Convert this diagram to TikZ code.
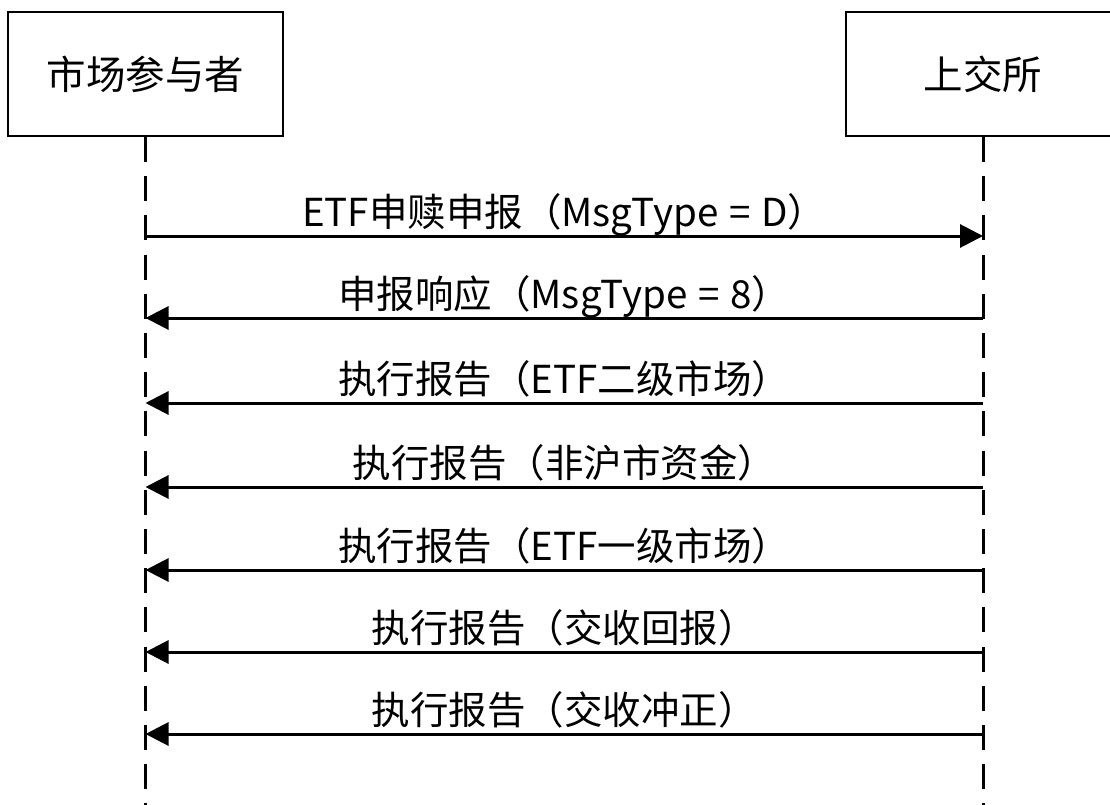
\documentclass[tikz,border=0pt]{standalone}
\usepackage{fontspec}
\setmainfont{Noto Sans CJK SC}
\newfontfamily\cjk{Noto Sans CJK SC}
\usetikzlibrary{arrows.meta}
\newcommand{\eqsp}{\hspace{0.28em}=\hspace{0.28em}}
\tikzset{
  actor/.style={draw=black, line width=2pt, minimum width=275pt, minimum height=124pt, inner sep=0pt,
    font=\cjk\fontsize{39.5}{44}\selectfont},
  lifeline/.style={line width=3pt, dash pattern=on 25pt off 14.2pt},
  msg/.style={line width=3pt, -{Triangle[length=23pt,width=23pt]}},
  lbl/.style={font=\cjk\fontsize{38.5}{42}\selectfont, inner sep=0pt, anchor=base}
}
\begin{document}
\begin{tikzpicture}[x=1pt,y=-1pt]
\useasboundingbox[fill=white] (0,0) rectangle (1110,805);
\node[actor] (mp) at (145.5,74) {市场参与者};
\node[actor] (sse) at (983,74) {上交所};
\coordinate (mpend) at (145.5,805);
\coordinate (sseend) at (983,805);
\draw[lifeline] (mp.south) -- (mpend);
\draw[lifeline] (sse.south) -- (sseend);
\foreach \i/\y in {1/236,2/318,3/403,4/487,5/570,6/652,7/734}{
  \coordinate (l\i) at (145.5,\y);
  \coordinate (r\i) at (983,\y);
}
\draw[msg] (l1) -- (r1) node[lbl, pos=0.5, yshift=10pt] (t1) {ETF申赎申报（MsgType\eqsp D）};
\draw[msg] (r2) -- (l2) node[lbl, pos=0.5, yshift=10pt] (t2) {申报响应（MsgType\eqsp 8）};
\draw[msg] (r3) -- (l3) node[lbl, pos=0.5, yshift=10pt] (t3) {执行报告（ETF二级市场）};
\draw[msg] (r4) -- (l4) node[lbl, pos=0.5, yshift=10pt] (t4) {执行报告（非沪市资金）};
\draw[msg] (r5) -- (l5) node[lbl, pos=0.5, yshift=10pt] (t5) {执行报告（ETF一级市场）};
\draw[msg] (r6) -- (l6) node[lbl, pos=0.5, yshift=10pt] (t6) {执行报告（交收回报）};
\draw[msg] (r7) -- (l7) node[lbl, pos=0.5, yshift=10pt] (t7) {执行报告（交收冲正）};
\end{tikzpicture}
\end{document}
